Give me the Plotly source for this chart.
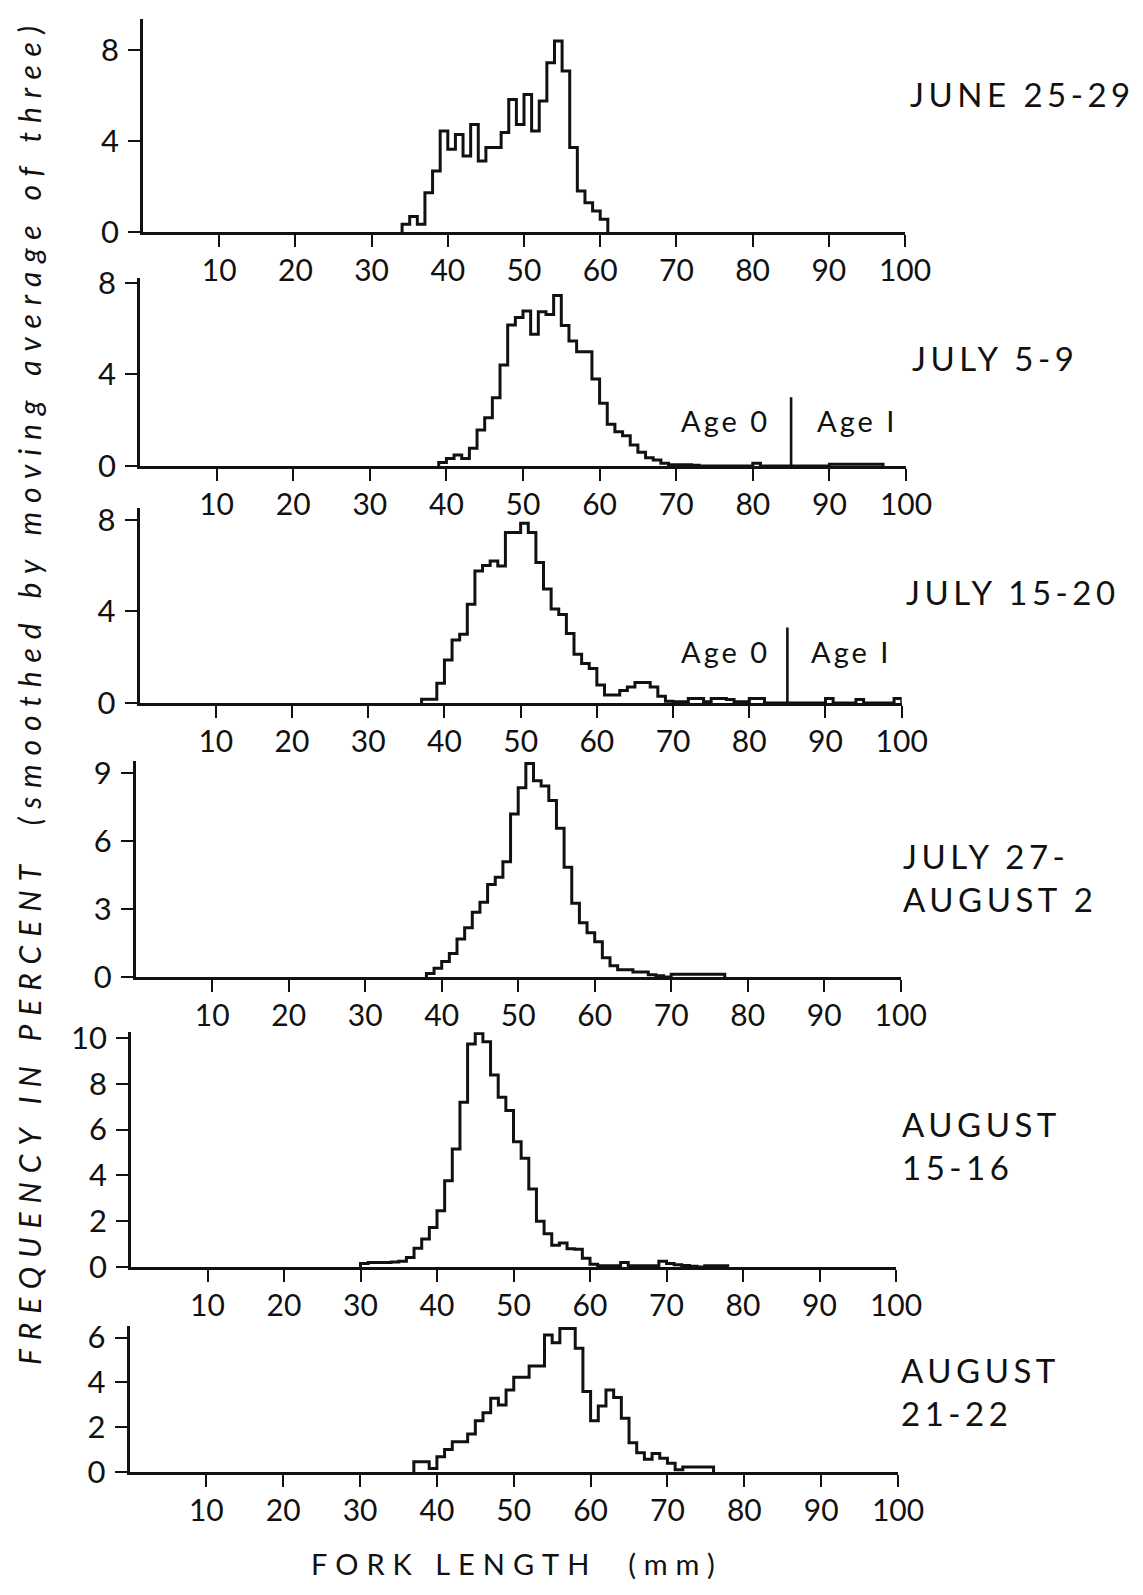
import plotly.graph_objects as go

# ---------------- data ----------------
TITLES = ["JUNE 25-29", "JULY 5-9", "JULY 15-20", "JULY 27-<br>AUGUST 2",
          "AUGUST<br>15-16", "AUGUST<br>21-22"]

X_TICKS = [10, 20, 30, 40, 50, 60, 70, 80, 90, 100]

Y_TICKS_JUN = [0, 4, 8]
Y_TICKS_JUL5 = [0, 4, 8]
Y_TICKS_JUL15 = [0, 4, 8]
Y_TICKS_JUL27 = [0, 3, 6, 9]
Y_TICKS_AUG15 = [0, 2, 4, 6, 8, 10]
Y_TICKS_AUG21 = [0, 2, 4, 6]

# first 1-mm length class of each sample and smoothed frequencies (%)
START_JUN = 34
FREQ_JUN = [0.34, 0.68, 0.34, 1.73, 2.69, 4.45, 3.64, 4.30, 3.35, 4.74, 3.13,
            3.72, 3.72, 4.38, 5.84, 4.74, 6.06, 4.45, 5.77, 7.46, 8.41, 7.09,
            3.72, 1.81, 1.29, 0.93, 0.56]

START_JUL5 = 39
FREQ_JUL5 = [0.15, 0.33, 0.48, 0.33, 0.77, 1.57, 2.11, 2.98, 4.41, 6.16, 6.48,
             6.77, 5.75, 6.74, 6.62, 7.44, 6.13, 5.46, 4.99, 4.99, 3.80, 2.74,
             1.82, 1.50, 1.32, 0.92, 0.60, 0.36, 0.26, 0.12, 0.05, 0.05, 0.05,
             0.03, 0, 0, 0, 0, 0, 0, 0, 0.12, 0, 0, 0, 0, 0, 0, 0, 0, 0,
             0.08, 0.08, 0.08, 0.08, 0.08, 0.08, 0.08]

START_JUL15 = 37
FREQ_JUL15 = [0.16, 0.16, 0.86, 1.88, 2.75, 3.00, 4.31, 5.76, 6.00, 6.20, 5.98,
              7.45, 7.45, 7.85, 7.45, 6.14, 4.98, 4.10, 3.87, 3.04, 2.13, 1.73,
              1.51, 0.79, 0.35, 0.35, 0.55, 0.70, 0.90, 0.90, 0.70, 0.30, 0.08,
              0.05, 0.05, 0.20, 0.20, 0.05, 0.20, 0.20, 0.15, 0.05, 0.05, 0.20,
              0.20, 0, 0, 0, 0, 0, 0, 0, 0, 0.20, 0, 0, 0, 0.15, 0, 0, 0, 0,
              0.20]

START_JUL27 = 38
FREQ_JUL27 = [0.15, 0.38, 0.68, 1.04, 1.67, 2.17, 2.85, 3.29, 4.08, 4.39, 5.08,
              7.18, 8.34, 9.40, 8.65, 8.41, 7.77, 6.55, 4.83, 3.25, 2.39, 1.95,
              1.55, 0.85, 0.50, 0.32, 0.32, 0.22, 0.22, 0.10, 0.05, 0, 0.12,
              0.12, 0.12, 0.12, 0.12, 0.12, 0.12]

START_AUG15 = 30
FREQ_AUG15 = [0.15, 0.20, 0.20, 0.20, 0.22, 0.25, 0.42, 0.82, 1.22, 1.73, 2.46,
              3.77, 5.15, 7.19, 9.74, 10.20, 9.84, 8.38, 7.41, 6.83, 5.47, 4.75,
              3.41, 2.00, 1.45, 0.95, 1.05, 0.80, 0.78, 0.38, 0.12, 0.05, 0.05,
              0.05, 0.20, 0.05, 0.05, 0.05, 0.05, 0.25, 0.15, 0.10, 0.07, 0.03,
              0, 0.05, 0.05, 0.05]

START_AUG21 = 37
FREQ_AUG21 = [0.46, 0.46, 0.16, 0.68, 1.01, 1.35, 1.35, 1.70, 2.29, 2.65, 3.29,
              2.99, 3.66, 4.23, 4.23, 4.73, 4.73, 6.12, 5.77, 6.41, 6.41, 5.52,
              3.59, 2.29, 2.95, 3.66, 3.33, 2.40, 1.31, 0.86, 0.57, 0.83, 0.61,
              0.39, 0.10, 0.22, 0.22, 0.22, 0.22]

AGE_SPLIT = 85  # mm, boundary between Age 0 and Age I

SAMPLES = [
    (START_JUN, FREQ_JUN, Y_TICKS_JUN),
    (START_JUL5, FREQ_JUL5, Y_TICKS_JUL5),
    (START_JUL15, FREQ_JUL15, Y_TICKS_JUL15),
    (START_JUL27, FREQ_JUL27, Y_TICKS_JUL27),
    (START_AUG15, FREQ_AUG15, Y_TICKS_AUG15),
    (START_AUG21, FREQ_AUG21, Y_TICKS_AUG21),
]

# ---------------- layout geometry (pixels on the page) ----------------
W, H = 1143, 1595
OFF = 8  # the page body margin shifts the figure by this much
# x of 0 mm, x of 100 mm, y of baseline, px per % unit, y axis top (units)
GEOM = [
    (143.0, 905.0, 232.0, 22.7, 9.4),
    (140.0, 906.0, 466.0, 22.9, 8.2),
    (139.6, 901.7, 703.0, 22.9, 8.5),
    (135.7, 900.7, 977.0, 22.7, 9.5),
    (131.0, 896.0, 1267.0, 22.9, 10.25),
    (129.5, 898.0, 1472.0, 22.4, 6.5),
]
TITLE_POS = [(908, 94), (910, 358), (904, 592), (901, 878), (900, 1145), (899, 1391)]

FONT = "Lato"
INK = "#111111"


def px_x(px):
    return (px - OFF) / W


def px_y(py):
    return 1 - (py - OFF) / H


def spaced(text, px):
    return f'<span style="letter-spacing:{px}px">{text}</span>'


fig = go.Figure()
layout = dict(
    template="none",
    width=W, height=H, margin=dict(l=0, r=0, t=0, b=0, autoexpand=False),
    paper_bgcolor="white", plot_bgcolor="white", showlegend=False,
    font=dict(family=FONT, color=INK, size=30),
)
annotations = []
shapes = []

for i, ((start, freq, yt), (x0, x100, base, ppu, ymax)) in enumerate(zip(SAMPLES, GEOM)):
    n = i + 1
    xs = [start] + [start + k for k in range(len(freq))] + [start + len(freq)]
    ys = [0] + list(freq) + [0]
    fig.add_trace(go.Scatter(
        x=xs, y=ys, mode="lines", line=dict(shape="hv", color=INK, width=3),
        xaxis=f"x{n}", yaxis=f"y{n}", hoverinfo="skip"))
    top = base - ymax * ppu
    xa = dict(
        domain=[px_x(x0), px_x(x100)], range=[0, 100], anchor=f"y{n}", automargin=False,
        showline=True, linecolor=INK, linewidth=2.6, showgrid=False, zeroline=False,
        ticks="outside", ticklen=12, tickwidth=2.4, tickcolor=INK,
        tickvals=X_TICKS, ticktext=[str(v) for v in X_TICKS],
        tickfont=dict(family=FONT, size=30, color=INK),
        ticklabelstandoff=-2,
    )
    ya = dict(
        domain=[px_y(base), px_y(top)], range=[0, ymax], anchor=f"x{n}", automargin=False,
        showline=True, linecolor=INK, linewidth=2.6, showgrid=False, zeroline=False,
        ticks="outside", ticklen=12, tickwidth=2.4, tickcolor=INK,
        tickvals=yt, ticktext=[str(v) for v in yt],
        tickfont=dict(family=FONT, size=31, color=INK),
        ticklabelstandoff=3,
    )
    layout["xaxis" if n == 1 else f"xaxis{n}"] = xa
    layout["yaxis" if n == 1 else f"yaxis{n}"] = ya
    tx, ty = TITLE_POS[i]
    annotations.append(dict(
        text=spaced(TITLES[i], 4.5), x=px_x(tx), y=px_y(ty), xref="paper", yref="paper",
        xanchor="left", yanchor="middle", align="left", showarrow=False,
        font=dict(family=FONT, size=33, color=INK)))

# Age 0 / Age I dividers in July 5-9 and July 15-20
for n, yline, ylab, xl0, xl1 in [(2, 3.0, 2.0, 76.5, 93.6), (3, 3.3, 2.27, 76.9, 93.4)]:
    shapes.append(dict(type="line", xref=f"x{n}", yref=f"y{n}",
                       x0=AGE_SPLIT, x1=AGE_SPLIT, y0=0, y1=yline,
                       line=dict(color=INK, width=2.6)))
    annotations.append(dict(text=spaced("Age 0", 3), x=xl0, y=ylab, xref=f"x{n}", yref=f"y{n}",
                            showarrow=False, xanchor="center", yanchor="middle",
                            font=dict(family=FONT, size=29, color=INK)))
    annotations.append(dict(text=spaced("Age I", 3), x=xl1, y=ylab, xref=f"x{n}", yref=f"y{n}",
                            showarrow=False, xanchor="center", yanchor="middle",
                            font=dict(family=FONT, size=29, color=INK)))

annotations.append(dict(
    text=spaced("<i>FREQUENCY IN PERCENT  (smoothed by moving average of three)</i>", 8.9),
    x=px_x(29), y=px_y(691), xref="paper", yref="paper", textangle=-90,
    xanchor="center", yanchor="middle", showarrow=False,
    font=dict(family=FONT, size=30, color=INK)))
annotations.append(dict(
    text=spaced("FORK LENGTH  (mm)", 8),
    x=px_x(517), y=px_y(1563), xref="paper", yref="paper",
    xanchor="center", yanchor="middle", showarrow=False,
    font=dict(family=FONT, size=29, color=INK)))

layout["annotations"] = annotations
layout["shapes"] = shapes
fig.update_layout(**layout)
fig.write_html("out.html")
